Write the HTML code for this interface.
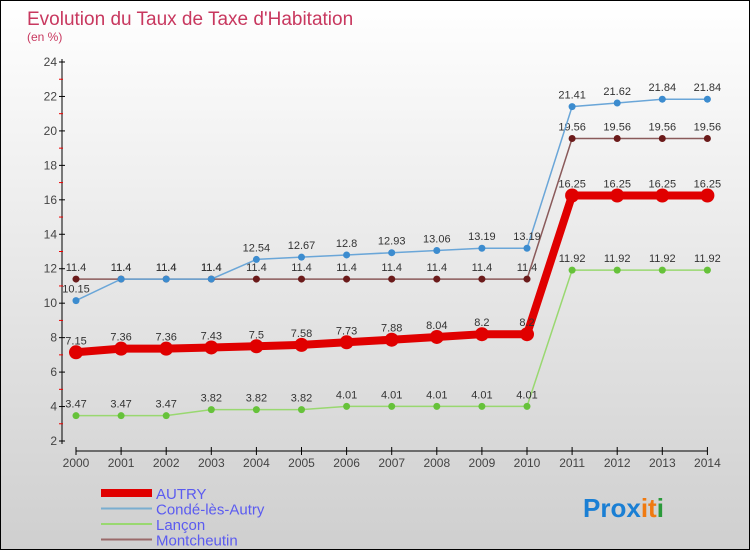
<!DOCTYPE html>
<html><head><meta charset="utf-8"><style>
body{margin:0}
#c{width:748px;height:548px;border:1px solid #000;background:linear-gradient(#fff,#cfcfcf);position:relative;font-family:"Liberation Sans",sans-serif;overflow:hidden}
</style></head><body>
<div id="c">
<svg id="s" width="748" height="548" xmlns="http://www.w3.org/2000/svg">
<text x="26" y="24" font-size="19" fill="#c8385f">Evolution du Taux de Taxe d'Habitation</text>
<text x="26" y="40" font-size="12" fill="#c8385f">(en %)</text>
<g id="axes"></g><g id="series"></g><g id="legend"></g>
<text x="582" y="516" font-size="26" font-weight="bold" font-family="Liberation Sans, sans-serif"><tspan fill="#1a7fd4">Pro</tspan><tspan fill="#1a7fd4">x</tspan><tspan fill="#f07a10">i</tspan><tspan fill="#f07a10">t</tspan><tspan fill="#2a9a3a">i</tspan></text>
</svg></div>
<script>
const years=[2000,2001,2002,2003,2004,2005,2006,2007,2008,2009,2010,2011,2012,2013,2014];
const yTicks=[2,4,6,8,10,12,14,16,18,20,22,24];
const autry=[7.15,7.36,7.36,7.43,7.5,7.58,7.73,7.88,8.04,8.2,8.2,16.25,16.25,16.25,16.25];
const conde=[10.15,11.4,11.4,11.4,12.54,12.67,12.8,12.93,13.06,13.19,13.19,21.41,21.62,21.84,21.84];
const lancon=[3.47,3.47,3.47,3.82,3.82,3.82,4.01,4.01,4.01,4.01,4.01,11.92,11.92,11.92,11.92];
const montch=[11.4,11.4,11.4,11.4,11.4,11.4,11.4,11.4,11.4,11.4,11.4,19.56,19.56,19.56,19.56];
const NS="http://www.w3.org/2000/svg";
const X=i=>75+i*45.1, Y=v=>440-(v-2)*(379/22);
function mk(p,t,a){const e=document.createElementNS(NS,t);for(const k in a)e.setAttribute(k,a[k]);p.appendChild(e);return e;}
const ax=document.getElementById('axes');
let l=mk(ax,'line',{x1:61,y1:58,x2:61,y2:443,stroke:'#000'});


l=mk(ax,'line',{x1:75,y1:450,x2:706,y2:450,stroke:'#000'});


yTicks.forEach((v,i)=>{
 mk(ax,'line',{x1:58,y1:Y(v),x2:64,y2:Y(v),stroke:'#000'});
 if(i<yTicks.length-1)mk(ax,'line',{x1:58,y1:Y(v+1),x2:62,y2:Y(v+1),stroke:'#e00'});
 const t=mk(ax,'text',{x:56,y:Y(v)+4,'font-size':12,'text-anchor':'end',fill:'#444'});t.textContent=v;
 
 
});
years.forEach((y,i)=>{
 mk(ax,'line',{x1:X(i),y1:446,x2:X(i),y2:454,stroke:'#000'});
 const t=mk(ax,'text',{x:X(i),y:466,'font-size':12,'text-anchor':'middle',fill:'#444'});t.textContent=y;
 
 
});
const sg=document.getElementById('series');
function series(d,col,dot,w,r,name,lab){
 const g=mk(sg,'g',{});
 
 
 mk(g,'polyline',{points:d.map((v,i)=>X(i)+','+Y(v)).join(' '),fill:'none',stroke:col,'stroke-width':w});
 d.forEach((v,i)=>{
  const c=mk(g,'circle',{cx:X(i),cy:Y(v),r:r,fill:dot});
  
  
  if(lab){const t=mk(g,'text',{x:X(i),y:Y(v)-8,'font-size':11,'text-anchor':'middle',fill:'#333'});t.textContent=v;}
 });
}
series(montch,'#8a5a5a','#6b1a1a',1.5,3.5,'montcheutin-series',true);
series(conde,'#6aa6d8','#3c8ccf',1.5,3.5,'conde-series',true);
series(lancon,'#99d870','#66c23a',1.5,3.5,'lancon-series',true);
series(autry,'#e00000','#e00000',8,7,'autry-series',true);
const lg=document.getElementById('legend');
[['AUTRY','#e00000',8],['Condé-lès-Autry','#7aaed0',2],['Lançon','#99d870',2],['Montcheutin','#9a6a6a',2]].forEach((e,i)=>{
 const g=mk(lg,'g',{});
 
 
 const y=492+i*15.5;
 mk(g,'line',{x1:100,y1:y,x2:151,y2:y,stroke:e[1],'stroke-width':e[2]});
 const t=mk(g,'text',{x:155,y:y+6,'font-size':15,fill:'#5b5bf0'});t.textContent=e[0];
});
</script>
</body></html>
